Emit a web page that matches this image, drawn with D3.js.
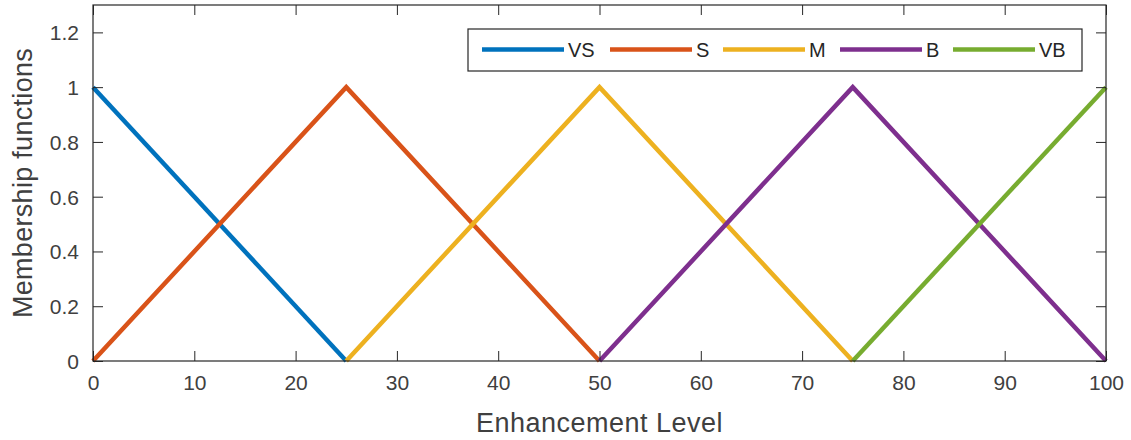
<!DOCTYPE html>
<html><head><meta charset="utf-8">
<script src="https://cdn.jsdelivr.net/npm/d3@7"></script>
<style>
html,body{margin:0;padding:0;background:#fff;}
svg text{font-family:"Liberation Sans",Arial,sans-serif;}
</style></head>
<body>
<svg id="c" width="1131" height="440"></svg>
<script>
const xValues = [0, 25, 50, 75, 100];
const seriesNames = ["VS", "S", "M", "B", "VB"];
const seriesColors = ["#0072BD", "#D95319", "#EDB120", "#7E2F8E", "#77AC30"];
const vsValues = [1, 0, null, null, null];
const sValues = [0, 1, 0, null, null];
const mValues = [null, 0, 1, 0, null];
const bValues = [null, null, 0, 1, 0];
const vbValues = [null, null, null, 0, 1];
const xTicks = [0, 10, 20, 30, 40, 50, 60, 70, 80, 90, 100];
const yTicks = [0, 0.2, 0.4, 0.6, 0.8, 1, 1.2];
const xLabel = "Enhancement Level";
const yLabel = "Membership functions";

const series = [vsValues, sValues, mValues, bValues, vbValues];
const svg = d3.select("#c");
const L = 93, R = 1106, T = 5, B = 361;
const x = d3.scaleLinear().domain([0, 100]).range([L, R]);
const y = d3.scaleLinear().domain([0, 1.3]).range([B, T]);
const axisColor = "#262626", textColor = "#404040";

// lines
const line = d3.line().defined(d => d[1] !== null).x(d => x(d[0])).y(d => y(d[1]));
series.forEach((vals, i) => {
  svg.append("path")
    .datum(xValues.map((xv, j) => [xv, vals[j]]))
    .attr("d", line)
    .attr("fill", "none")
    .attr("stroke", seriesColors[i])
    .attr("stroke-width", 4.5)
    .attr("stroke-linejoin", "miter");
});

// axes
const tickLen = 10;
const gx = svg.append("g").attr("transform", `translate(0,${B})`)
  .call(d3.axisBottom(x).tickValues(xTicks).tickSize(-tickLen).tickPadding(14).tickFormat(d3.format("d")));
const gxt = svg.append("g").attr("transform", `translate(0,${T})`)
  .call(d3.axisTop(x).tickValues(xTicks).tickSize(-tickLen).tickFormat(""));
const gy = svg.append("g").attr("transform", `translate(${L},0)`)
  .call(d3.axisLeft(y).tickValues(yTicks).tickSize(-tickLen).tickPadding(14).tickFormat(d => d3.format("~g")(d)));
const gyr = svg.append("g").attr("transform", `translate(${R},0)`)
  .call(d3.axisRight(y).tickValues(yTicks).tickSize(-tickLen).tickFormat(""));
[gx, gxt, gy, gyr].forEach(g => {
  g.select(".domain").remove();
  g.selectAll(".tick line").attr("stroke", axisColor).attr("stroke-width", 1);
  g.selectAll(".tick text").attr("fill", textColor).style("font-size", "21px").style("font-family", "'Liberation Sans',Arial,sans-serif");
});
gx.selectAll(".tick text").attr("dy", "0.71em");
gy.selectAll(".tick text").attr("dy", "0.35em");

svg.append("rect").attr("x", L).attr("y", T).attr("width", R - L).attr("height", B - T)
  .attr("fill", "none").attr("stroke", axisColor).attr("stroke-width", 1.2);

// labels
svg.append("text").attr("x", (L + R) / 2 - 0).attr("y", 432)
  .attr("text-anchor", "middle").attr("fill", textColor)
  .style("font-size", "27px").style("letter-spacing", "0.5px").text(xLabel);
svg.append("text").attr("transform", `translate(32,${(T + B) / 2}) rotate(-90)`)
  .attr("text-anchor", "middle").attr("fill", textColor)
  .style("font-size", "27px").style("letter-spacing", "0.3px").text(yLabel);

// legend
const lg = svg.append("g");
lg.append("rect").attr("x", 468).attr("y", 29).attr("width", 614).attr("height", 42)
  .attr("fill", "#fff").attr("stroke", axisColor).attr("stroke-width", 1.2);
const legendStarts = [482, 610, 723, 840, 953];
const lineLen = 82;
seriesNames.forEach((n, i) => {
  const lx = legendStarts[i];
  lg.append("line").attr("x1", lx).attr("x2", lx + lineLen).attr("y1", 49.5).attr("y2", 49.5)
    .attr("stroke", seriesColors[i]).attr("stroke-width", 4.5);
  lg.append("text").attr("x", lx + lineLen + 4).attr("y", 50).attr("dy", "0.35em")
    .attr("fill", "#262626").style("font-size", "20px").text(n);
});
</script>
</body></html>
